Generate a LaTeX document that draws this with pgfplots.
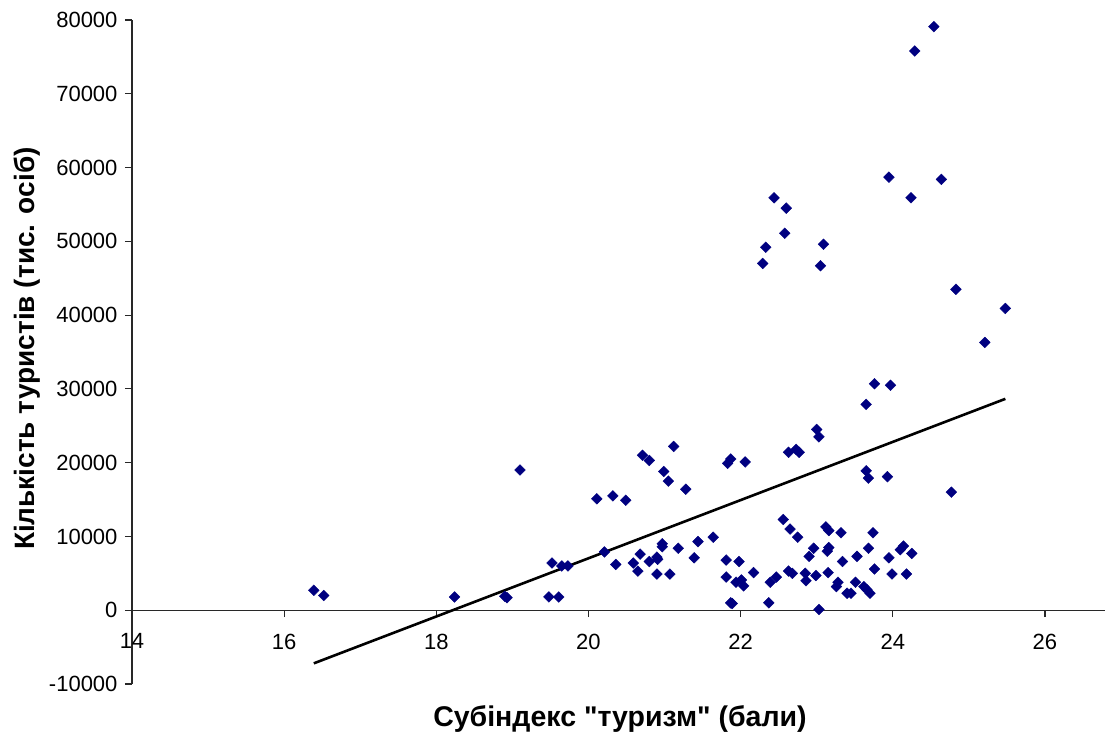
\documentclass[border=0pt]{standalone}
\usepackage{pgfplots}
\pgfplotsset{compat=1.18}
\usepackage{fontspec}
\setmainfont{Liberation Sans}[Ligatures=TeXOff]
\definecolor{navy}{RGB}{0,0,128}
\definecolor{axgray}{RGB}{40,40,40}
\begin{document}
\begin{tikzpicture}
\begin{axis}[
  at={(0,0)}, anchor=south west,
  scale only axis, width=973pt, height=664pt,
  xmin=14, xmax=26.79, ymin=-10000, ymax=80000,
  axis x line=middle, axis y line=left,
  axis line style={-, line width=1.3pt, color=axgray},
  hide obscured x ticks=false, hide obscured y ticks=false,
  xtick={14,16,18,20,22,24,26}, ytick={-10000,0,10000,20000,30000,40000,50000,60000,70000,80000},
  tick align=outside, major tick length=7pt,
  tick style={line width=1.2pt, color=axgray},
  scaled y ticks=false,
  /pgf/number format/assume math mode=true,
  yticklabel style={/pgf/number format/fixed, /pgf/number format/1000 sep={}, font=\fontsize{22}{22}\selectfont, xshift=-4pt},
  xticklabel style={font=\fontsize{22}{22}\selectfont, anchor=north, yshift=-13pt},
  xlabel={Субіндекс "туризм" (бали)},
  ylabel={Кількість туристів (тис. осіб)},
  x label style={at={(axis description cs:0.5015,0)}, anchor=center, yshift=-35pt, font=\bfseries\fontsize{28.5}{28.5}\selectfont},
  y label style={at={(axis description cs:-0.108,0.505)}, anchor=center, font=\bfseries\fontsize{28}{28}\selectfont},
  clip=false,
]
\addplot[only marks, mark=square*, mark size=3.8pt, mark options={rotate=45, fill=navy, draw=navy}] coordinates {
(16.39,2700) (16.52,2000) (18.24,1800) (18.90,1900) (18.93,1700) (19.10,19000)
(19.48,1800) (19.61,1800) (19.52,6400) (19.65,6000) (19.73,6000) (20.11,15100)
(20.32,15500) (20.49,14900) (20.21,7900) (20.36,6200) (20.59,6400) (20.65,5300)
(20.68,7600) (20.80,6600) (20.90,7200) (20.91,6900) (20.90,4900) (20.97,9000)
(20.97,8600) (21.07,4900) (21.18,8400) (21.39,7100) (21.44,9300) (20.71,21000)
(20.80,20300) (20.99,18800) (21.05,17500) (21.12,22200) (21.28,16400) (21.64,9900)
(21.83,19900) (21.87,20500) (22.06,20100) (22.63,21400) (22.73,21800) (22.77,21400)
(23.00,24500) (23.03,23500) (23.65,27900) (23.76,30700) (23.97,30500) (23.65,18900)
(23.68,17900) (23.93,18100) (24.77,16000) (22.56,12300) (22.65,11000) (22.75,9900)
(23.12,11300) (23.16,10800) (23.32,10500) (23.74,10500) (23.68,8400) (23.16,8500)
(23.14,8000) (22.96,8400) (22.90,7300) (23.53,7300) (23.34,6600) (23.95,7100)
(24.10,8200) (24.14,8700) (24.25,7700) (23.76,5600) (23.99,4900) (24.18,4900)
(23.15,5100) (22.99,4700) (22.85,5000) (22.86,4000) (22.68,5000) (22.63,5300)
(22.47,4500) (22.39,3800) (22.17,5100) (21.98,6600) (21.81,6800) (21.81,4500)
(21.94,3800) (22.01,4100) (22.04,3300) (21.87,1000) (21.89,900) (22.37,1000)
(23.03,100) (23.28,3800) (23.26,3200) (23.51,3800) (23.40,2300) (23.45,2300)
(23.62,3200) (23.66,2800) (23.70,2300)
(24.54,79100) (24.29,75800) (23.95,58700) (24.64,58400) (24.24,55900) (22.44,55900)
(22.60,54500) (22.58,51100) (22.33,49200) (22.29,47000) (23.09,49600) (23.05,46700)
(24.83,43500) (25.48,40900) (25.21,36300)
};
\addplot[black, line width=2.6pt] coordinates {(16.39,-7200) (25.48,28650)};
\end{axis}
\pgfresetboundingbox
\path (-132pt,-50pt) rectangle (973pt,684pt);
\end{tikzpicture}
\end{document}
